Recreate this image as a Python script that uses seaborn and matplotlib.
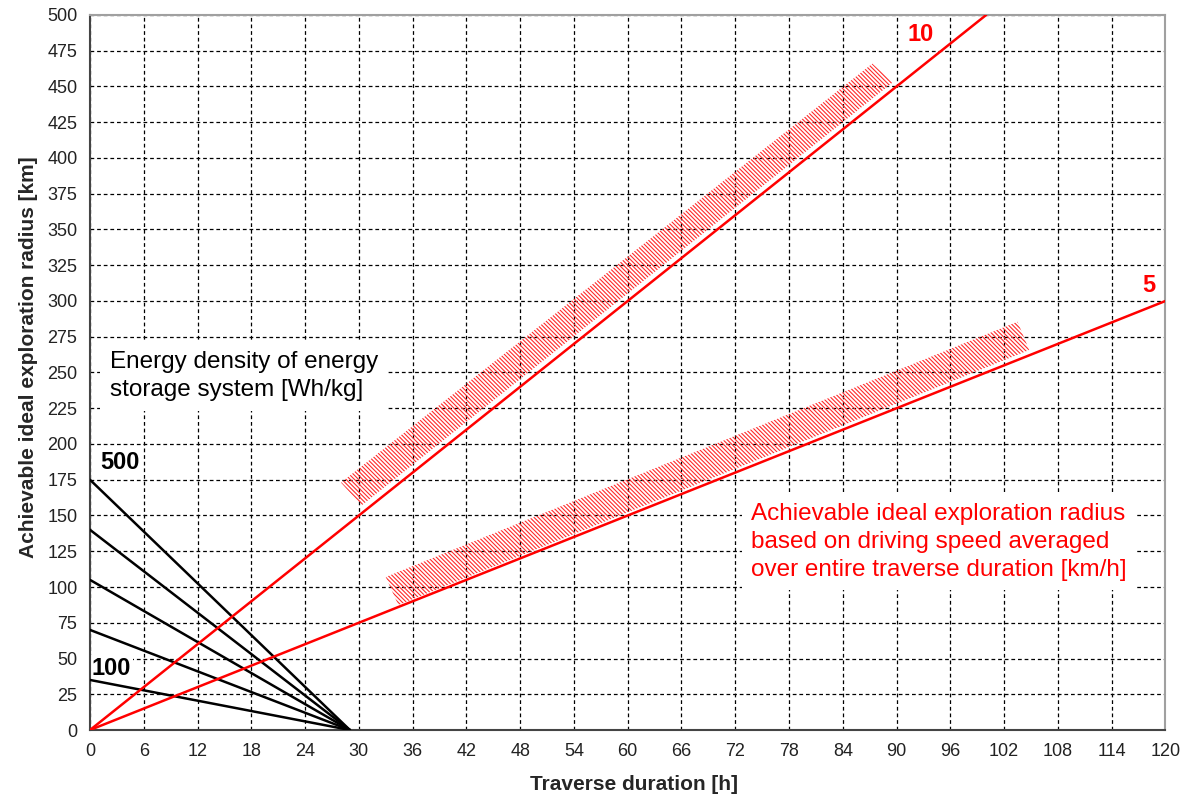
import numpy as np
import pandas as pd
import matplotlib
matplotlib.use("Agg")
import matplotlib.pyplot as plt
import seaborn as sns

# Average driving speed lines [km/h]: traverse duration [h] vs. radius [km]
speed_labels = [10, 5]
speed_t = [[0, 100], [0, 120]]
speed_r = [[0, 500], [0, 300]]

# Energy density lines [Wh/kg]: radius at zero duration, falling to zero at the endurance limit
energy_labels = [100, 200, 300, 400, 500]
energy_r0 = [35, 70, 105, 140, 175]
energy_t_end = 29.0

# Hatched bands along the two speed lines (corner points, duration / radius)
band10_t = [28.0, 30.3, 89.6, 87.3]
band10_r = [173, 157, 453, 466]
band5_t = [33.0, 34.4, 104.8, 103.5]
band5_r = [107, 87.4, 265.7, 285.5]

x_ticks = list(range(0, 121, 6))
y_ticks = list(range(0, 501, 25))

speed_df = pd.DataFrame({
    "t": [v for seg in speed_t for v in seg],
    "r": [v for seg in speed_r for v in seg],
    "speed": [s for s, seg in zip(speed_labels, speed_t) for _ in seg],
})
energy_df = pd.DataFrame({
    "t": [v for r0 in energy_r0 for v in (0, energy_t_end)],
    "r": [v for r0 in energy_r0 for v in (r0, 0)],
    "energy": [e for e in energy_labels for _ in range(2)],
})

sns.set_theme(style="white")
plt.rcParams["font.family"] = ["Liberation Sans", "DejaVu Sans"]
plt.rcParams["hatch.linewidth"] = 0.8
plt.rcParams["hatch.color"] = "#ff2a2a"

fig = plt.figure(figsize=(11.92, 7.96), dpi=100)
ax = fig.add_axes([0.0755, 0.0829, 0.9022, 0.8983])

# hatched bands
for bt, br in ((band10_t, band10_r), (band5_t, band5_r)):
    ax.fill(bt, br, facecolor="none", edgecolor="#ff2a2a", hatch="\\" * 8,
            linewidth=0, zorder=2)

sns.lineplot(data=energy_df, x="t", y="r", units="energy", estimator=None,
             color="black", linewidth=1.8, ax=ax, zorder=3, legend=False)
sns.lineplot(data=speed_df, x="t", y="r", units="speed", estimator=None,
             color="#ff0000", linewidth=1.8, ax=ax, zorder=4, legend=False)

ax.set_xlim(0, 120)
ax.set_ylim(0, 500)
ax.set_xticks(x_ticks)
ax.set_yticks(y_ticks)
ax.tick_params(axis="both", direction="out", length=5, width=1, color="#333333",
               labelsize=13, labelcolor="#222222", pad=4)
ax.grid(True, color="black", linestyle=(0, (3, 2.3)), linewidth=0.9)
ax.set_axisbelow(True)

for side in ("left", "bottom"):
    ax.spines[side].set_color("#444444")
    ax.spines[side].set_linewidth(1.5)
for side in ("top", "right"):
    ax.spines[side].set_color("#a0a0a0")
    ax.spines[side].set_linewidth(1.5)
    ax.spines[side].set_visible(True)

ax.set_xlabel("Traverse duration [h]", fontsize=15, fontweight="bold", labelpad=11)
ax.set_ylabel("Achievable ideal exploration radius [km]", fontsize=15,
              fontweight="bold", labelpad=7)
ax.xaxis.label.set_x(0.5056)
ax.yaxis.label.set_y(0.522)

# annotations (white boxes hide the grid behind the labels, lines stay on top)
small_box = dict(facecolor="white", edgecolor="none", pad=1.5)
big_box = dict(facecolor="white", edgecolor="none", pad=7)
ax.text(1.1, 187, str(energy_labels[-1]), fontsize=17, fontweight="bold",
        color="black", ha="left", va="center", bbox=small_box, zorder=2.5)
ax.text(0.2, 43, str(energy_labels[0]), fontsize=17, fontweight="bold",
        color="black", ha="left", va="center", bbox=small_box, zorder=2.5)
ax.text(92.7, 486, str(speed_labels[0]), fontsize=17, fontweight="bold",
        color="#ff0000", ha="center", va="center", zorder=5)
ax.text(118.1, 311, str(speed_labels[1]), fontsize=17, fontweight="bold",
        color="#ff0000", ha="center", va="center", zorder=5)
ax.text(2.2, 265, "Energy density of energy\nstorage system [Wh/kg]",
        fontsize=17.5, color="black", ha="left", va="top", linespacing=1.35,
        bbox=big_box, zorder=1.5)
ax.text(73.8, 159, "Achievable ideal exploration radius\n"
        "based on driving speed averaged\nover entire traverse duration [km/h]",
        fontsize=17.5, color="#ff0000", ha="left", va="top", linespacing=1.35,
        bbox=big_box, zorder=1.5)

fig.savefig("out.png", dpi=100, facecolor="white")
